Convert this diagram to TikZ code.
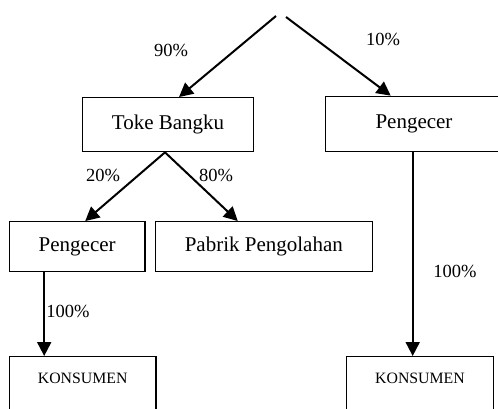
\documentclass[tikz,border=0pt]{standalone}
\usepackage{fontspec}
\setmainfont{Liberation Serif}
\usetikzlibrary{arrows.meta}
\begin{document}
\begin{tikzpicture}[x=1pt,y=-1pt,
  box/.style={draw,line width=1.3pt,inner sep=0pt,font=\fontsize{21}{25}\selectfont},
  kbox/.style={draw,line width=1.3pt,inner xsep=0pt,inner ysep=0pt,text height=27.3pt,text depth=45pt,font=\fontsize{15.8}{18}\selectfont},
  arr/.style={line width=2pt,-{Triangle[length=14pt,width=14pt]}},
  pct/.style={font=\fontsize{18.5}{22}\selectfont,inner sep=0pt}]
\useasboundingbox (0,0) rectangle (498,409);
\clip (0,0) rectangle (498,409);
\node[box,minimum width=170.6pt,minimum height=54pt] (tb) at (168,124.7) {Toke Bangku};
\node[box,minimum width=177pt,minimum height=55.4pt] (pr) at (414,124) {Pengecer};
\node[box,minimum width=135.7pt,minimum height=49.6pt] (pl) at (77.2,246.5) {Pengecer};
\node[box,minimum width=217pt,minimum height=49.6pt] (pp) at (263.8,246.5) {Pabrik Pengolahan};
\node[kbox,minimum width=146.7pt,anchor=north] (k1) at (82.7,356) {KONSUMEN};
\node[kbox,minimum width=146.6pt,anchor=north] (k2) at (420,356) {KONSUMEN};
\coordinate (s1) at (276,16);
\coordinate (s2) at (286,17);
\draw[arr] (s1) -- ([xshift=11pt]tb.north);
\draw[arr] (s2) -- ([xshift=-23.3pt]pr.north);
\draw[arr] ([xshift=-3pt]tb.south) -- ([xshift=8pt]pl.north);
\draw[arr] ([xshift=-3pt]tb.south) -- ([xshift=-26pt]pp.north);
\draw[arr] ([xshift=-33pt]pl.south) -- ([xshift=-33pt]pl.south |- k1.north);
\draw[arr] ([xshift=-1.3pt]pr.south) -- ([xshift=-1.3pt]pr.south |- k2.north);
\node[pct] (l90) at (171,50) {90\%};
\node[pct] (l10) at (383,39) {10\%};
\node[pct] (l20) at (103,175) {20\%};
\node[pct] (l80) at (216,175) {80\%};
\node[pct] (l100a) at (68,311.7) {100\%};
\node[pct] (l100b) at (455,271) {100\%};
\end{tikzpicture}
\end{document}
